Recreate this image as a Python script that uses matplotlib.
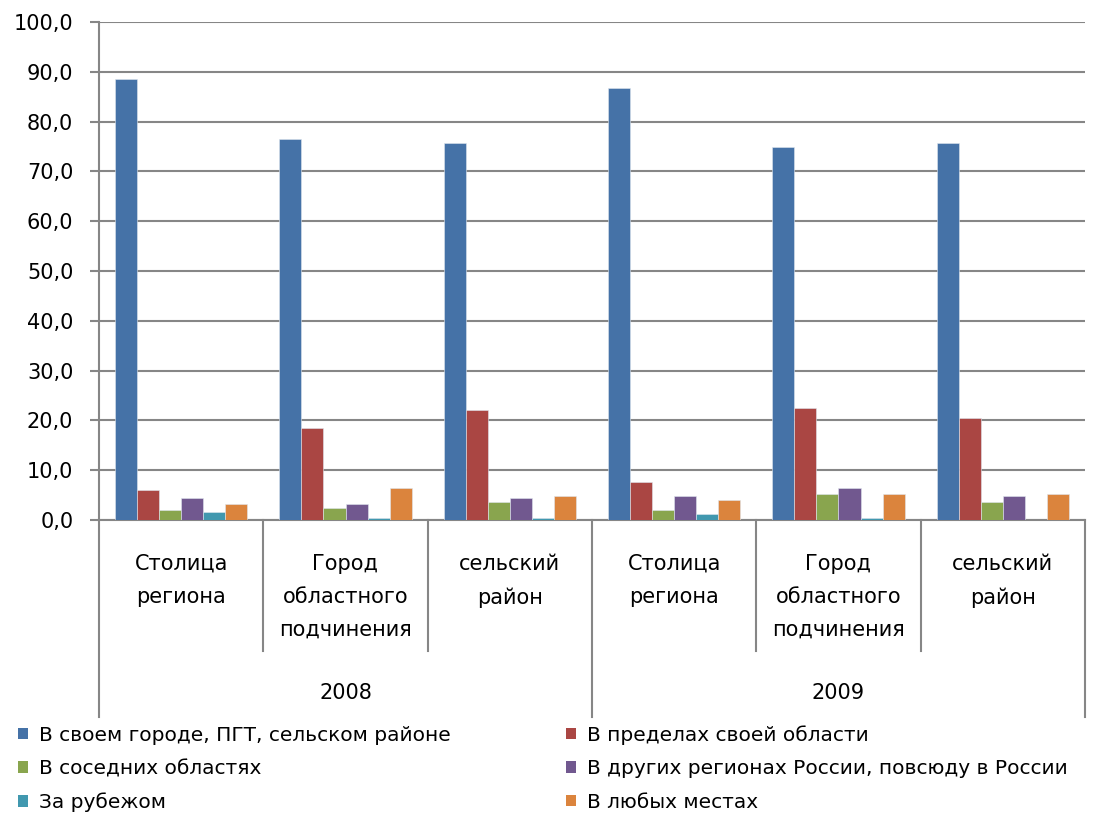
import matplotlib
matplotlib.use("Agg")
import matplotlib.pyplot as plt
import numpy as np
from matplotlib.patches import Patch

plt.rcParams['font.family'] = ['DejaVu Sans']

years = ["2008", "2009"]
categories = ["Столица\nрегиона", "Город\nобластного\nподчинения", "сельский\nрайон"]
series_names = [
    "В своем городе, ПГТ, сельском районе",
    "В пределах своей области",
    "В соседних областях",
    "В других регионах России, повсюду в России",
    "За рубежом",
    "В любых местах",
]
own_city = [88.5, 76.5, 75.7, 86.7, 74.9, 75.7]
own_region = [6.0, 18.4, 22.0, 7.6, 22.4, 20.4]
neighbor = [2.0, 2.4, 3.6, 2.0, 5.2, 3.6]
other_russia = [4.4, 3.2, 4.4, 4.8, 6.4, 4.8]
abroad = [1.6, 0.5, 0.5, 1.2, 0.5, 0.0]
anywhere = [3.2, 6.4, 4.8, 4.0, 5.2, 5.2]
series = [own_city, own_region, neighbor, other_russia, abroad, anywhere]
colors = ["#4572A7", "#AA4643", "#89A54E", "#71588F", "#4198AF", "#DB843D"]

W, H = 1095, 816
fig = plt.figure(figsize=(W / 100, H / 100), dpi=100)
ax = fig.add_axes([99 / W, (H - 520) / H, (1085 - 99) / W, (520 - 22) / H])

n_groups = len(years) * len(categories)
x = np.arange(n_groups)
bw = 0.134
for i, (vals, c) in enumerate(zip(series, colors)):
    ax.bar(x + (i - 2.5) * bw, vals, width=bw, color=c, edgecolor="#dfe6ee",
           linewidth=0.4, zorder=3, label=series_names[i])

ax.set_xlim(-0.5, n_groups - 0.5)
ax.set_ylim(0, 100)
ax.set_yticks(np.arange(0, 101, 10))
ax.set_yticklabels([f"{v:.1f}".replace(".", ",") for v in np.arange(0, 101, 10)],
                   fontsize=15, color="#000000")
ax.yaxis.grid(True, color="#868686", linewidth=1.5, zorder=0)
ax.tick_params(axis="y", length=6.5, width=1.5, color="#868686", pad=12)
ax.set_xticks([])
for s in ["top", "right"]:
    ax.spines[s].set_visible(False)
for s in ["left", "bottom"]:
    ax.spines[s].set_color("#868686")
    ax.spines[s].set_linewidth(1.5)

trans = ax.get_xaxis_transform()
# axis y in axes coords: 0 at 520px, 1 at 22px
def ay(py):
    return (520 - py) / (520 - 22)

sep_col = "#868686"
for b in range(n_groups + 1):
    xb = b - 0.5
    bottom = 717 if b % 3 == 0 else 651
    ax.plot([xb, xb], [0, ay(bottom)], transform=trans, color=sep_col, lw=1.5,
            clip_on=False)

for gi in range(n_groups):
    ax.text(gi, ay(554), categories[gi % 3], transform=trans, ha="center",
            va="top", fontsize=15, linespacing=1.8)
for yi, yr in enumerate(years):
    ax.text(yi * 3 + 1, ay(693), yr, transform=trans, ha="center",
            va="center", fontsize=15)

handles = [Patch(facecolor=c, edgecolor="none") for c in colors]
order = [0, 2, 4, 1, 3, 5]
fig.legend([handles[i] for i in order], [series_names[i] for i in order],
           ncol=2, frameon=False, loc="upper left",
           bbox_to_anchor=(18 / W, 1 - 725 / H), fontsize=14.5,
           handlelength=0.5, handleheight=0.5, handletextpad=0.52,
           labelspacing=0.72, columnspacing=5.75, borderaxespad=0,
           borderpad=0)

fig.savefig("out.png", dpi=100)
